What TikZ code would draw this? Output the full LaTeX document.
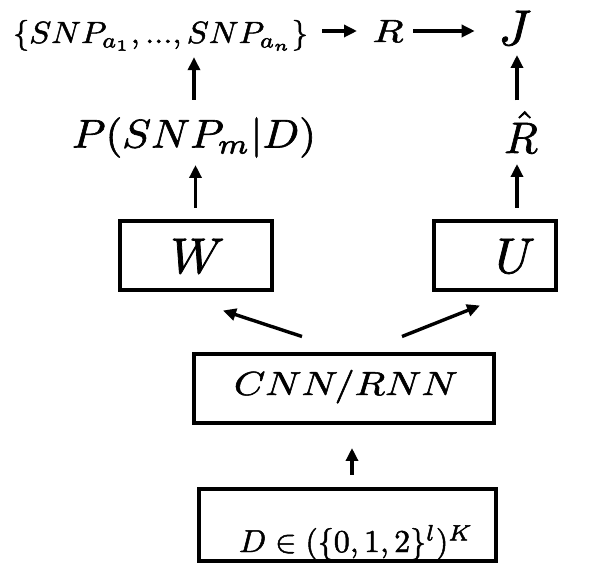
\documentclass[tikz,border=0pt]{standalone}
\usepackage{graphicx}
\usetikzlibrary{arrows.meta}
\newcommand{\thk}[1]{\special{pdf:literal direct 2 Tr 0.15 w}#1\special{pdf:literal direct 0 Tr 0.4 w}}
\tikzset{
  box/.style={draw, line width=4pt, inner sep=0pt},
  txt/.style={inner sep=0pt, outer sep=0pt, anchor=base},
  arr/.style={line width=3.4pt, -{Triangle[length=13pt,width=12pt]}}
}
\begin{document}
\begin{tikzpicture}[x=1pt,y=-1pt]
\useasboundingbox[fill=white] (0,0) rectangle (598,580);
% boxes
\node[box, minimum width=152pt, minimum height=69pt] (Wb) at (195.5,256) {};
\node[box, minimum width=122pt, minimum height=69pt] (Ub) at (494.5,256) {};
\node[box, minimum width=300pt, minimum height=69pt] (Cb) at (343.5,389) {};
\node[box, minimum width=297pt, minimum height=71pt] (Db) at (347,525) {};
% texts
\node[txt] (set) at (160.5,43) {\resizebox{295pt}{23pt}{\thk{$\{SNP_{a_1},...,SNP_{a_n}\}$}}};
\node[txt] (R) at (388,42) {\resizebox{31pt}{22pt}{\thk{$R$}}};
\node[txt] (J) at (515,45) {\scalebox{5}{\thk{$J$}}};
\node[txt] (P) at (194,147.5) {\resizebox{244pt}{30pt}{\thk{$P(SNP_m|D)$}}};
\node[txt] (Rh) at (521,153) {\scalebox{4.4}{\thk{$\hat{R}$}}};
\node[txt] (W) at (197.5,273) {\scalebox{5}{\thk{$W$}}};
\node[txt] (U) at (515.5,273) {\scalebox{5}{\thk{$U$}}};
\node[txt] (C) at (346,395) {\resizebox{224pt}{25pt}{\thk{$CNN/RNN$}}};
\node[txt] (D) at (356,552) {\resizebox{234pt}{27pt}{\thk{$D\in(\{0,1,2\}^l)^K$}}};
% arrows
\draw[arr, shorten <=14pt, shorten >=15.5pt] (set.east |- R.center) -- (R.west);
\draw[arr, shorten <=9.5pt, shorten >=24pt] (R.east) -- (J.west |- R.east);
\draw[arr, shorten <=17.5pt, shorten >=6.5pt] (P.north) -- (P.north |- set.south);
\draw[arr, shorten <=11.5pt, shorten >=7.5pt] (Wb.north) -- (Wb.north |- P.south);
\draw[arr, shorten <=11.5pt, shorten >=11pt] ([xshift=-4pt]Rh.south |- Ub.north) -- ([xshift=-4pt]Rh.south);
\draw[arr, shorten <=11pt, shorten >=10pt] ([xshift=-4pt]Rh.north) -- ([xshift=-4pt]Rh.north |- J.south);
\draw[arr] ([shift={(-41.5,-16)}]Cb.north) -- ([shift={(27.5,18)}]Wb.south);
\draw[arr] ([shift={(58.5,-16)}]Cb.north) -- ([shift={(-14.5,13)}]Ub.south);
\draw[arr, shorten <=12.5pt, shorten >=22.5pt] ([xshift=5pt]Db.north) -- ([xshift=5pt]Db.north |- Cb.south);
\end{tikzpicture}
\end{document}
